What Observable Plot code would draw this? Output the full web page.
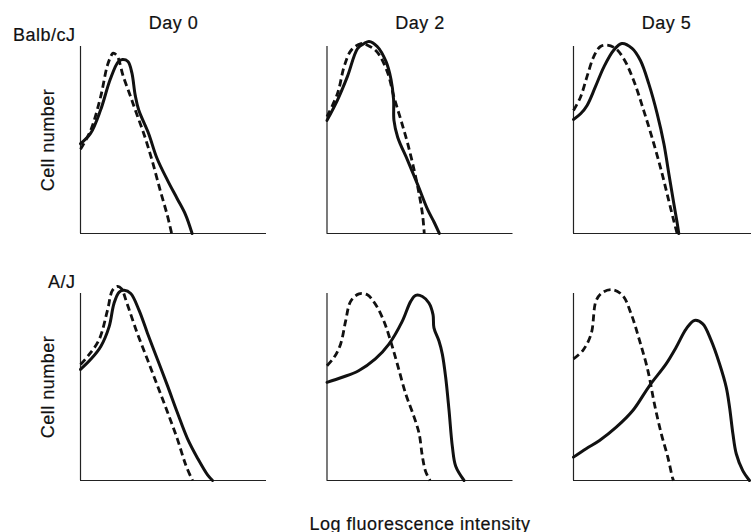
<!DOCTYPE html>
<html><head><meta charset="utf-8">
<script src="https://cdn.jsdelivr.net/npm/d3@7"></script>
<script src="https://cdn.jsdelivr.net/npm/@observablehq/plot@0.6"></script>
<style>
html,body{margin:0;padding:0;background:#fff;overflow:hidden}
#chart svg text{letter-spacing:0.5px}
</style></head><body><div id="chart"></div>
<script>
const days = ["Day 0", "Day 2", "Day 5"];
const strains = ["Balb/cJ", "A/J"];
const xLabel = "Log fluorescence intensity";
const yLabel = "Cell number";

// Curves: [x, y], x in % of panel width, y in % of axis height
const balbDay0Solid = [[0,48],[5.4,53.5],[10.8,66],[16,82.5],[20.4,92],[22.6,93],[25.5,92],[27.6,86],[29.4,74],[31.3,66],[36.6,53.5],[41,40.5],[47,28],[52,18.6],[56.5,10],[60,0]];
const balbDay0Dashed = [[0,45],[5.4,55],[10.8,73],[14.5,90],[17,96],[17.6,96.5],[19.7,95],[23,84],[27,73],[30,64.5],[34,53.5],[38.5,39],[43,22.5],[46.6,10],[49,0]];
const balbDay2Solid = [[0,60.5],[5.7,71.5],[11,84],[16.5,99],[20,101.6],[22.6,102.7],[27,100],[31.7,92],[34.4,82.5],[35.8,71.6],[36,60.5],[38,51.5],[43.4,39],[48.8,26],[54,13],[57.6,6],[60.4,0]];
const balbDay2Dashed = [[0,62.5],[5.7,75],[9.3,89.6],[13,98],[18.3,101.6],[21.8,100.7],[27,97],[32.6,86],[36,73],[39.8,60.5],[43.4,48],[47,33.3],[49.6,20.7],[51.4,9.8],[52.3,0]];
const balbDay5Solid = [[0,61],[3.8,64],[7.3,68.5],[11.8,78.5],[16.3,89],[21.6,98],[26,101.6],[31.5,99],[36,92.5],[40.5,80],[45,64],[48.6,48],[51.3,31.7],[54,15.6],[55.7,5.9],[56.6,0]];
const balbDay5Dashed = [[0,65.8],[3.8,73],[7.3,84],[10.9,94.6],[14.5,100],[18,100.7],[22.6,99],[27,93.5],[32.4,81.7],[37.8,65.6],[43.2,48],[47.7,31.7],[51.3,17.2],[54,6.5],[55.7,0]];
const ajDay0Solid = [[0,59.4],[5.5,64.8],[10.9,71.7],[15.4,82.3],[18,94.7],[20.8,100.8],[23.5,101.7],[27,100],[31.5,91],[36,78.8],[41.4,64.7],[46.8,50.6],[52,36.5],[57.5,22.4],[63,11.8],[68.3,3],[71,0]];
const ajDay0Dashed = [[0,62],[4.7,67.4],[10,75.3],[14.5,91],[17.2,101.7],[19.9,103.8],[22,102.6],[25,94.7],[30.5,78.8],[36,64.7],[41.4,50.6],[46.8,36.5],[52,22.4],[56.6,8.3],[60.2,0]];
const ajDay2Solid = [[0,52.5],[8.2,55.2],[17,58.7],[26,65],[33.3,72.9],[40.5,85.2],[45,95.8],[47.7,99],[51.3,98.4],[54.8,94.9],[57,88.7],[57.5,81.6],[60.2,74.6],[62,67.6],[63.8,55.2],[65.6,37.6],[67.4,18.1],[69.2,7.6],[73.7,0]];
const ajDay2Dashed = [[0,61.4],[3.8,65.8],[7.3,72.9],[10,85.2],[12.7,95.8],[17.2,99.8],[21.7,99.3],[26.2,94],[30.6,85.2],[34.2,74.6],[37.8,62.3],[42.3,46.4],[46.8,34],[49.5,25.2],[51.3,12.8],[53,4.9],[55.4,0]];
const ajDay5Solid = [[0,12.5],[6.8,17],[14,21.4],[23,28.5],[31.9,37.4],[40.9,50.8],[49.8,62.4],[55.2,71.3],[60.6,81.1],[65,85.6],[69.5,83.8],[74,74.9],[78.5,62.4],[82.1,49.9],[83.9,39.2],[85.7,25],[87.5,14.3],[91,5.3],[94.6,0]];
const ajDay5Dashed = [[0,65],[5,69.5],[9.5,78.4],[12.2,96.3],[15.8,100.7],[21.1,102],[26.5,98.9],[31,89.1],[35.5,74.9],[40,58.8],[43.5,41],[47.2,25],[50.7,12.5],[53.4,0.9],[53.8,0]];

const curves = [
  {strain: "Balb/cJ", day: "Day 0", kind: "solid", pts: balbDay0Solid},
  {strain: "Balb/cJ", day: "Day 0", kind: "dashed", pts: balbDay0Dashed},
  {strain: "Balb/cJ", day: "Day 2", kind: "solid", pts: balbDay2Solid},
  {strain: "Balb/cJ", day: "Day 2", kind: "dashed", pts: balbDay2Dashed},
  {strain: "Balb/cJ", day: "Day 5", kind: "solid", pts: balbDay5Solid},
  {strain: "Balb/cJ", day: "Day 5", kind: "dashed", pts: balbDay5Dashed},
  {strain: "A/J", day: "Day 0", kind: "solid", pts: ajDay0Solid},
  {strain: "A/J", day: "Day 0", kind: "dashed", pts: ajDay0Dashed},
  {strain: "A/J", day: "Day 2", kind: "solid", pts: ajDay2Solid},
  {strain: "A/J", day: "Day 2", kind: "dashed", pts: ajDay2Dashed},
  {strain: "A/J", day: "Day 5", kind: "solid", pts: ajDay5Solid},
  {strain: "A/J", day: "Day 5", kind: "dashed", pts: ajDay5Dashed}
];
const rows = curves.flatMap(c => c.pts.map(([x, y]) => ({strain: c.strain, day: c.day, kind: c.kind, x, y})));
const panels = strains.flatMap(s => days.map(d => ({strain: s, day: d})));

const textStyle = {fontSize: 18, fill: "#111", stroke: "#111", strokeWidth: 0.2};

const chart = Plot.plot({
  width: 751,
  height: 532,
  marginTop: 46,
  marginBottom: 52,
  marginLeft: 80,
  marginRight: -8,
  style: {fontFamily: "'Liberation Sans', Arial, Helvetica, sans-serif", background: "#fff", color: "#111"},
  fx: {domain: days, axis: null, paddingInner: 0.2454, round: false},
  fy: {domain: strains, axis: null, paddingInner: 0.243, round: false},
  x: {domain: [0, 100], axis: null},
  y: {domain: [0, 100], axis: null},
  marks: [
    Plot.ruleY(panels, {fx: "day", fy: "strain", y: () => 0, stroke: "#222", strokeWidth: 1.2}),
    Plot.ruleX(panels, {fx: "day", fy: "strain", x: () => 0, stroke: "#222", strokeWidth: 1.2}),
    Plot.line(rows.filter(d => d.kind === "dashed"), {fx: "day", fy: "strain", x: "x", y: "y", curve: "catmull-rom", stroke: "#111", strokeWidth: 2.8, strokeDasharray: "7,4", strokeLinecap: "butt"}),
    Plot.line(rows.filter(d => d.kind === "solid"), {fx: "day", fy: "strain", x: "x", y: "y", curve: "catmull-rom", stroke: "#111", strokeWidth: 3}),
    Plot.text(days.map(d => ({day: d, strain: strains[0]})), {fx: "day", fy: "strain", text: "day", frameAnchor: "top", textAnchor: "middle", dy: -18, lineAnchor: "bottom", ...textStyle}),
    Plot.text(strains.map(s => ({day: days[0], strain: s})), {fx: "day", fy: "strain", text: "strain", frameAnchor: "top-left", textAnchor: "end", lineAnchor: "bottom", dx: -5, dy: -6, ...textStyle}),
    Plot.text(strains.map(s => ({day: days[0], strain: s})), {fx: "day", fy: "strain", text: () => yLabel, frameAnchor: "left", textAnchor: "middle", rotate: -90, lineAnchor: "bottom", dx: -27, ...textStyle}),
    Plot.text([{day: days[1], strain: strains[1]}], {fx: "day", fy: "strain", text: () => xLabel, frameAnchor: "bottom", textAnchor: "middle", lineAnchor: "bottom", dy: 49, ...textStyle})
  ]
});
document.getElementById("chart").appendChild(chart);
</script></body></html>
